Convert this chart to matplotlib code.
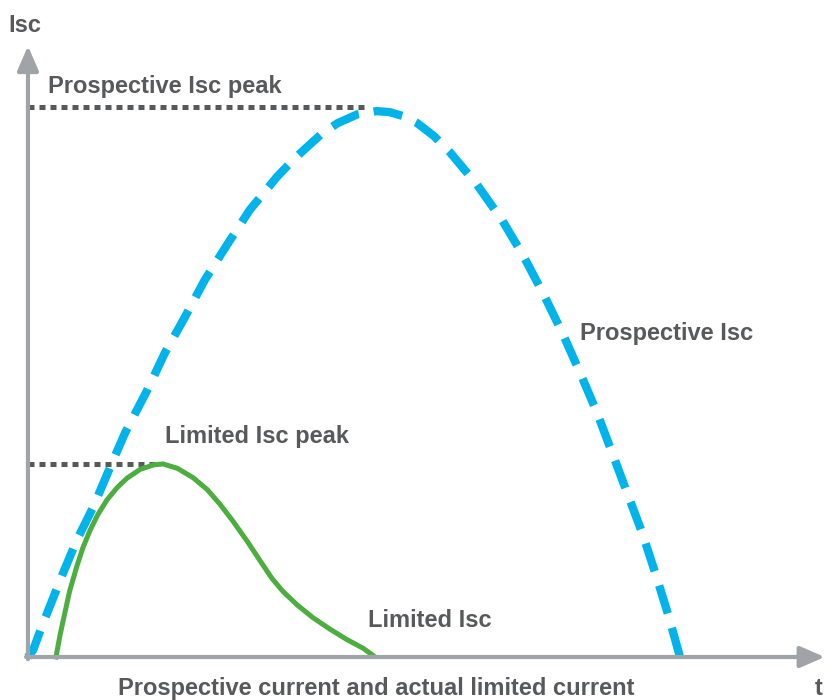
import matplotlib
matplotlib.use("Agg")
import matplotlib.pyplot as plt

# Prospective short circuit current (blue dashed) - time in ms, current in % of prospective peak
prosp_t = [0, 0.08, 0.21, 0.54, 0.75, 1.0, 1.26, 1.49, 1.83, 2.10, 2.41, 2.71, 3.05, 3.40, 3.82,
           4.07, 4.25, 4.50, 4.75, 5.05, 5.35, 5.55, 5.75, 5.97, 6.23, 6.47, 6.89, 7.27, 7.59, 7.90,
           8.19, 8.47, 8.73, 8.96, 9.19, 9.42, 9.62, 9.82, 10.0]
prosp_i = [0, 1.3, 5.5, 15.4, 21.4, 27.4, 34.7, 41.0, 48.8, 55.6, 62.2, 68.9, 75.3, 81.7, 87.8,
           90.9, 92.9, 95.6, 97.6, 99.2, 99.8, 99.6, 98.9, 97.6, 95.2, 92.3, 86.3, 79.9, 73.5, 66.5,
           59.4, 51.9, 44.6, 37.3, 30.0, 22.7, 15.4, 7.7, 0]

# Limited current (green)
lim_t = [0.43, 0.49, 0.57, 0.64, 0.75, 0.84, 0.95, 1.07, 1.21, 1.37, 1.52, 1.72, 1.92, 2.07, 2.29,
         2.53, 2.75, 2.94, 3.14, 3.36, 3.56, 3.74, 3.91, 4.13, 4.37, 4.63, 4.89, 5.14, 5.29]
lim_i = [0, 3.9, 8.3, 12.1, 16.6, 19.9, 23.1, 26.0, 28.7, 31.0, 32.7, 34.3, 35.1, 35.3, 34.5,
         32.8, 30.6, 28.0, 24.9, 21.2, 17.6, 14.4, 12.0, 9.5, 7.2, 5.1, 3.2, 1.6, 0.3]

prosp_peak = 100
lim_peak = 35.2
prosp_peak_t = 5.17
lim_peak_t = 1.98

axis_col = "#A0A4A8"
text_col = "#58595B"

plt.rcParams["font.family"] = ["Liberation Sans", "DejaVu Sans"]

fig = plt.figure(figsize=(8.25, 7), dpi=100)
ax = fig.add_axes([0, 0, 1, 1])
ax.set_xlim(-0.429, 12.224)
ax.set_ylim(-7.86, 120.11)
ax.axis("off")

# axes with arrows
arrow = dict(arrowstyle="-|>,head_length=1.5,head_width=0.65", color=axis_col, lw=3,
             shrinkA=0, shrinkB=0, mutation_scale=10)
ax.annotate("", xy=(12.22, 0), xytext=(-0.03, 0), arrowprops=arrow)
ax.annotate("", xy=(0, 111.7), xytext=(0, -0.4), arrowprops=arrow)

# dotted peak markers
ax.plot([0, prosp_peak_t], [prosp_peak + 0.5, prosp_peak + 0.5], color=text_col, lw=3.6,
        dashes=(1.2, 1.0), dash_capstyle="butt")
ax.plot([0, lim_peak_t], [lim_peak, lim_peak], color=text_col, lw=3.6,
        dashes=(1.2, 1.0), dash_capstyle="butt")

# curves
ax.plot(prosp_t, prosp_i, color="#00B4EB", lw=6, dashes=(3.5, 1.8), dash_capstyle="butt",
        solid_joinstyle="round")
ax.plot(lim_t, lim_i, color="#4BAE3F", lw=3.6, solid_joinstyle="round")

fs = 17
ax.text(-0.05, 114.3, "Isc", fontsize=fs, fontweight="bold", color=text_col, ha="center", va="baseline")
ax.text(0.31, 103.1, "Prospective Isc peak", fontsize=fs, fontweight="bold", color=text_col, va="baseline")
ax.text(2.10, 39.1, "Limited Isc peak", fontsize=fs, fontweight="bold", color=text_col, va="baseline")
ax.text(8.47, 58.0, "Prospective Isc", fontsize=fs, fontweight="bold", color=text_col, va="baseline")
ax.text(5.21, 5.5, "Limited Isc", fontsize=fs, fontweight="bold", color=text_col, va="baseline")
ax.text(5.34, -6.95, "Prospective current and actual limited current", fontsize=fs,
        fontweight="bold", color=text_col, ha="center", va="baseline")
ax.text(12.07, -6.95, "t", fontsize=fs, fontweight="bold", color=text_col, va="baseline")

plt.savefig("out.png", dpi=100)
